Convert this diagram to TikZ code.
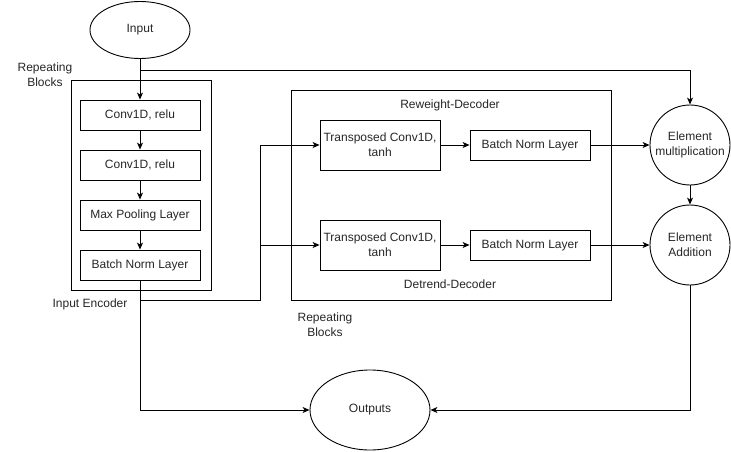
\documentclass[tikz,border=0pt]{standalone}
\usepackage{fontspec}
\setmainfont{Liberation Sans}
\usetikzlibrary{shapes.geometric,arrows.meta}
\begin{document}
\begin{tikzpicture}[x=1pt,y=-1pt,
  every node/.style={font=\fontsize{12}{15}\selectfont, text=black!85},
  box/.style={draw, line width=0.9pt, rectangle, minimum width=120pt, inner sep=0pt, align=center},
  frame/.style={draw, line width=0.9pt, rectangle, inner sep=0pt},
  oval/.style={draw, line width=0.9pt, ellipse, inner sep=0pt},
  circ/.style={draw, line width=0.9pt, circle, minimum size=80pt, inner sep=0pt, align=center},
  lbl/.style={align=center, inner sep=0pt},
  conn/.style={line width=0.9pt},
  arr/.style={conn, -{Stealth[length=7pt,width=6pt,inset=2pt]}}
]
\useasboundingbox (0,0) rectangle (731,452);
% nodes
\node[oval, minimum width=100pt, minimum height=57pt] (input) at (140,30) {Input};
\node[frame, minimum width=140pt, minimum height=210pt] (enc) at (141,185) {};
\node[box, minimum height=30pt] (c1) at (140,115) {Conv1D, relu};
\node[box, minimum height=30pt] (c2) at (140,165) {Conv1D, relu};
\node[box, minimum height=30pt] (mp) at (140,215) {Max Pooling Layer};
\node[box, minimum height=30pt] (bn1) at (140,265) {Batch Norm Layer};
\node[frame, minimum width=320pt, minimum height=210pt] (dec) at (451,195) {};
\node[box, minimum height=50pt] (t1) at (380,145) {Transposed Conv1D,\\tanh};
\node[box, minimum height=30pt] (bn2) at (530,145) {Batch Norm Layer};
\node[box, minimum height=50pt] (t2) at (380,245) {Transposed Conv1D,\\tanh};
\node[box, minimum height=30pt] (bn3) at (530,245) {Batch Norm Layer};
\node[circ] (mul) at (690,145) {Element\\multiplication};
\node[circ] (add) at (690,245) {Element\\Addition};
\node[oval, minimum width=120pt, minimum height=80pt] (out) at (370,410) {Outputs};
% labels
\node[lbl] (rb1) at (45,75) {Repeating\\Blocks};
\node[lbl] (ie) at (90,304) {Input Encoder};
\node[lbl] (rd) at (450,105) {Reweight-Decoder};
\node[lbl] (dd) at (450,284) {Detrend-Decoder};
\node[lbl] (rb2) at (325,325) {Repeating\\Blocks};
% coordinates
\coordinate (s1) at (140,70);
\coordinate (s2) at (690,70);
\coordinate (e1) at (140,300);
\coordinate (e2) at (260,300);
\coordinate (e3) at (260,145);
\coordinate (e4) at (260,245);
\coordinate (o1) at (140,410);
\coordinate (o2) at (690,410);
% connectors
\draw[arr] (input.south) -- (c1.north);
\draw[arr] (s1) -- (s2) -- (mul.north);
\draw[arr] (c1) -- (c2);
\draw[arr] (c2) -- (mp);
\draw[arr] (mp) -- (bn1);
\draw[arr] (bn1.south) -- (o1) -- (out.west);
\draw[arr] (e1) -- (e2) -- (e3) -- (t1.west);
\draw[arr] (e4) -- (t2.west);
\draw[arr] (t1) -- (bn2);
\draw[arr] (bn2) -- (mul);
\draw[arr] (t2) -- (bn3);
\draw[arr] (bn3) -- (add);
\draw[arr] (mul) -- (add);
\draw[arr] (add.south) -- (o2) -- (out.east);
\end{tikzpicture}
\end{document}
